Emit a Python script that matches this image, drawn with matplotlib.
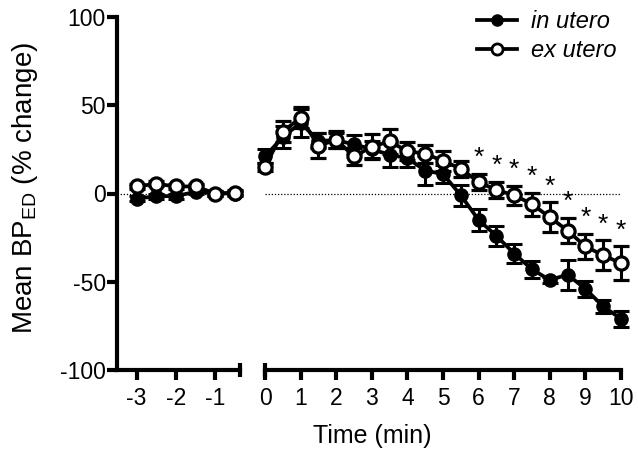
import numpy as np
import matplotlib
matplotlib.use('Agg')
import matplotlib.pyplot as plt

plt.rcParams['font.family'] = ['Liberation Sans', 'DejaVu Sans']
plt.rcParams['axes.unicode_minus'] = False
plt.rcParams['mathtext.default'] = 'regular'

# baseline (before)
t_pre = [-3, -2.5, -2, -1.5, -1, -0.5]
in_pre = [-3, -1.5, -1.5, 1, 0, 0]
in_pre_sem = [1.5, 1.5, 1.5, 1.5, 1.5, 1.5]
ex_pre = [4, 5.5, 4, 4, 0, 0.5]
ex_pre_sem = [1.5, 1.5, 1.5, 1.5, 1.5, 1.5]

# after
t_post = [0, 0.5, 1, 1.5, 2, 2.5, 3, 3.5, 4, 4.5, 5,
          5.5, 6, 6.5, 7, 7.5, 8, 8.5, 9, 9.5, 10]
in_post = [21, 32, 40, 30, 30, 28, 25, 22, 20, 13, 11,
           -1, -15, -24, -34, -43, -49, -46, -54, -64, -71]
in_sem = [4, 6, 8, 4, 4, 5, 5, 7, 5, 8, 5,
          6, 6, 5.5, 5.5, 5, 1.5, 8.5, 4.5, 3.5, 4.5]
ex_post = [15, 35, 43, 27, 30.5, 21, 26.5, 29.5, 24, 22.5, 18.5,
           14, 6.5, 2, -1, -6, -13.5, -21, -30, -35, -39.5]
ex_sem = [2, 6, 6, 7, 5, 5, 7, 7, 5, 5, 5.5,
          4.5, 4.5, 4.5, 5.5, 6.5, 8.5, 7, 7, 8.5, 9.5]
sig = [False] * 12 + [True] * 9

fig = plt.figure(figsize=(6.38, 4.54), dpi=100)
ax1 = fig.add_axes([117/638, 1 - 370/454, 123/638, 353/454])
ax2 = fig.add_axes([265/638, 1 - 370/454, 356/638, 353/454])

ms = 9.5
lw = 2.7
ekw = dict(elinewidth=2.2, capsize=6, capthick=2.2)


def draw(ax, t, yin, ein, yex, eex):
    ax.axhline(0, color='k', lw=0.9, ls=(0, (1, 1.5)), zorder=0)
    c1 = ax.errorbar(t, yin, yerr=ein, color='k', lw=lw, marker='o', ms=ms,
                     mfc='k', mec='k', zorder=2, **ekw)
    c2 = ax.errorbar(t, yex, yerr=eex, color='k', lw=lw, marker='o', ms=ms,
                     mfc='white', mec='k', mew=2.3, zorder=3, **ekw)
    for c in (c1, c2):
        for a in c.get_children():
            a.set_clip_on(False)


draw(ax1, t_pre, in_pre, in_pre_sem, ex_pre, ex_pre_sem)
draw(ax2, t_post, in_post, in_sem, ex_post, ex_sem)

# significance stars
for t, m, e, s in zip(t_post, ex_post, ex_sem, sig):
    if s:
        ax2.text(t, m + e + 9, '*', ha='center', va='center', fontsize=19,
                 clip_on=False)

for ax in (ax1, ax2):
    ax.set_ylim(-100, 100)
    for s in ('top', 'right'):
        ax.spines[s].set_visible(False)
    ax.spines['bottom'].set_linewidth(3)
    ax.spines['left'].set_linewidth(3)
    ax.tick_params(axis='both', width=3, length=7, labelsize=16.5, color='k')
    ax.tick_params(axis='x', pad=5)
    ax.tick_params(axis='y', pad=1)
    ax.set_facecolor('none')

ax1.set_xlim(-3.5, -0.37)
ax1.set_xticks([-3, -2, -1])
ax1.set_yticks([-100, -50, 0, 50, 100])

ax2.set_xlim(0, 10)
ax2.set_xticks(range(0, 11))
ax2.spines['left'].set_visible(False)
ax2.tick_params(axis='y', left=False, labelleft=False)

# break marks at the axis ends
ax1.plot([1, 1], [-0.02, 0.02], transform=ax1.transAxes, color='k', lw=3,
         clip_on=False, solid_capstyle='butt')
ax2.plot([0, 0], [-0.02, 0.02], transform=ax2.transAxes, color='k', lw=3,
         clip_on=False, solid_capstyle='butt')

fig.text(25/638, 1 - 188/454, 'Mean BP$_{ED}$ (% change)', rotation=90,
         ha='center', va='center', fontsize=20)
fig.text(372/638, 1 - 436/454, 'Time (min)', ha='center', va='center',
         fontsize=18)

h1 = plt.Line2D([], [], color='k', lw=lw, marker='o', ms=8, mfc='k', mec='k')
h2 = plt.Line2D([], [], color='k', lw=lw, marker='o', ms=8, mfc='white',
                mec='k', mew=2)
leg = fig.legend([h1, h2], ['in utero', 'ex utero'], loc='upper right',
                 bbox_to_anchor=(1.0, 1.025), frameon=False,
                 prop={'style': 'italic', 'size': 17}, handlelength=1.7,
                 handletextpad=0.6, labelspacing=0.25)

fig.savefig('out.png', dpi=100)
